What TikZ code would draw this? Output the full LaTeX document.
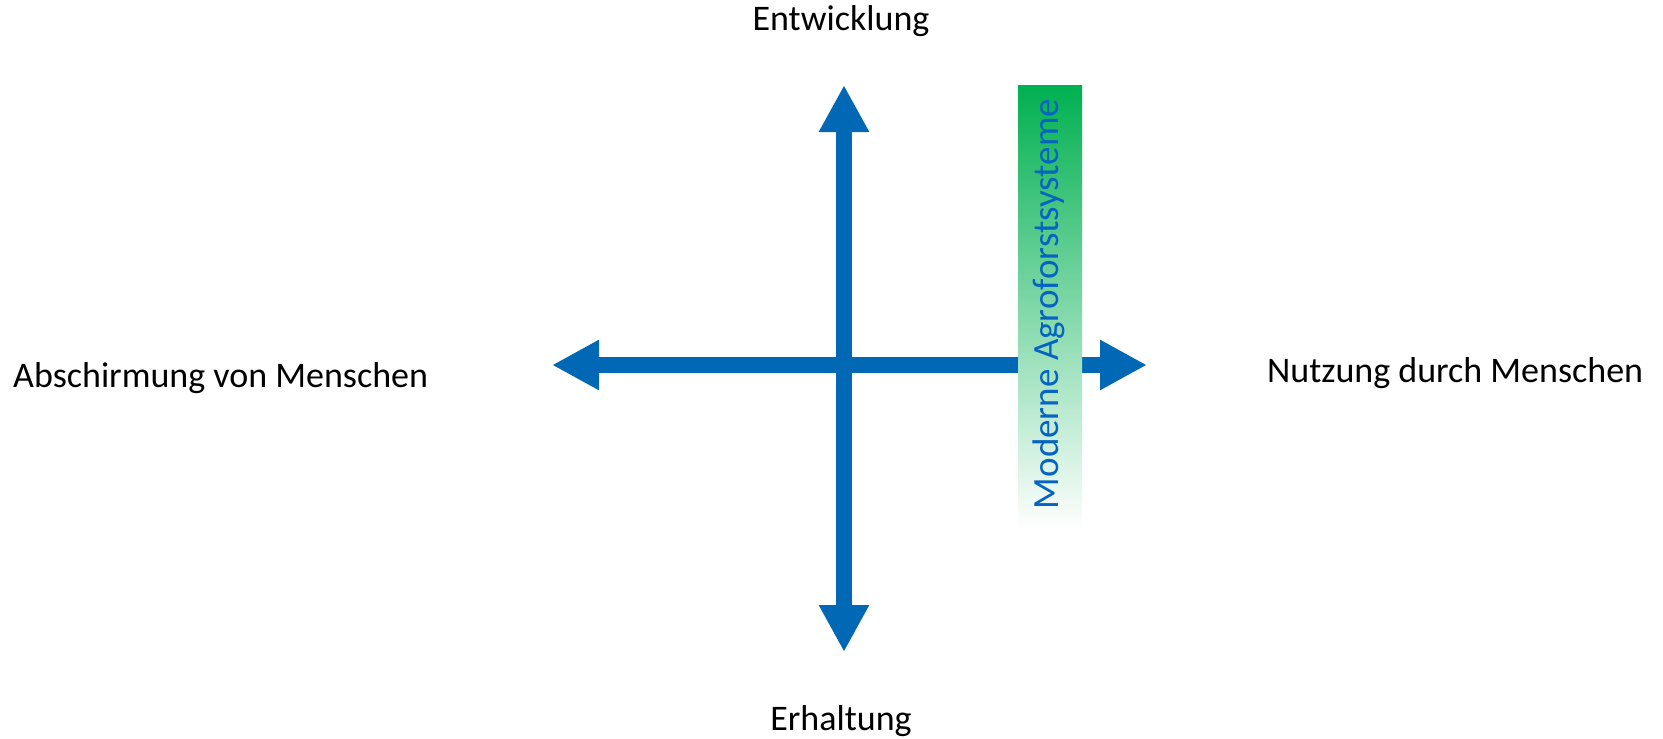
\documentclass[tikz,border=0pt]{standalone}
\usepackage{fontspec}
\setmainfont{Carlito}
\usetikzlibrary{arrows.meta}
\definecolor{axisblue}{RGB}{0,104,180}
\definecolor{textblue}{RGB}{5,99,193}
\definecolor{bargreen}{RGB}{0,176,80}
\begin{document}
\begin{tikzpicture}[x=1pt,y=-1pt,
  axis/.style={draw=axisblue, line width=16pt, {Triangle[length=47pt,width=47pt]}-{Triangle[length=47pt,width=47pt]}},
  lbl/.style={inner sep=0pt, font=\fontsize{36}{43}\selectfont, text=black}]
\useasboundingbox (0,0) rectangle (1663,739);
\coordinate (L) at (552,365);
\coordinate (R) at (1147,365);
\coordinate (T) at (844,85);
\coordinate (B) at (844,652);
\draw[axis] (L) -- (R);
\draw[axis] (T) -- (B);
\shade[top color=bargreen, bottom color=white, draw=none] (1018,85) rectangle (1082,530);
\node[lbl, text=textblue, rotate=90, font=\fontsize{37}{44}\selectfont] (bar) at (1049,304) {Moderne Agroforstsysteme};
\node[lbl] (top) at (841,21) {Entwicklung};
\node[lbl] (bottom) at (841,721) {Erhaltung};
\node[lbl, anchor=west] (left) at (13,378) {Abschirmung von Menschen};
\node[lbl, anchor=west] (right) at (1267,373) {Nutzung durch Menschen};
\end{tikzpicture}
\end{document}
